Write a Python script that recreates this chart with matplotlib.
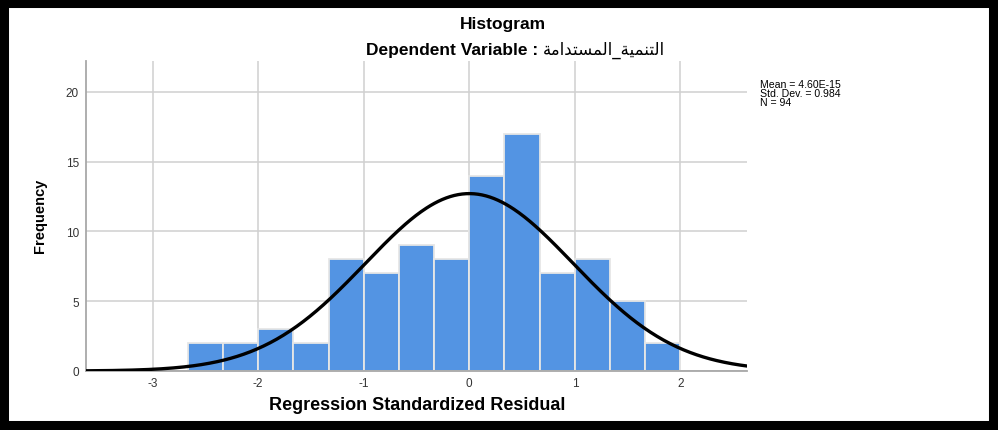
import numpy as np
import matplotlib
matplotlib.use("Agg")
import matplotlib.pyplot as plt
from matplotlib.patches import Rectangle

# ---- data ----
bin_edges = [-8/3, -7/3, -2.0, -5/3, -4/3, -1.0, -2/3, -1/3, 0.0, 1/3, 2/3, 1.0, 4/3, 5/3, 2.0]
counts = [2, 2, 3, 2, 8, 7, 9, 8, 14, 17, 7, 8, 5, 2]
mean_val = 4.60e-15
std_val = 0.984
n_val = 94
xticks = [-3, -2, -1, 0, 1, 2]
yticks = [0, 5, 10, 15, 20]

# Arabic variable name, pre-shaped (presentation forms) in visual order
logical_forms = ["\uFE8D", "\uFEDF", "\uFE98", "\uFEE8", "\uFEE4", "\uFEF4", "\uFE94", "_",
                 "\uFE8D", "\uFEDF", "\uFEE4", "\uFEB4", "\uFE98", "\uFEAA", "\uFE8D", "\uFEE3", "\uFE94"]
arabic_visual = "".join(reversed(logical_forms))

plt.rcParams['font.family'] = ['Liberation Sans', 'DejaVu Sans']

fig = plt.figure(figsize=(9.98, 4.31), dpi=100)
W, H = 998, 431
ax = fig.add_axes([86 / W, (H - 372) / H, (747 - 86) / W, (372 - 62) / H])

bar_color = "#5394E3"
lefts = np.array(bin_edges[:-1])
widths = np.diff(bin_edges)
ax.bar(lefts, counts, width=widths, align="edge", color=bar_color,
       edgecolor="#e6e6e6", linewidth=1.3, zorder=2)

xmin, xmax = -3.63, 2.63
ax.set_xlim(xmin, xmax)
ax.set_ylim(0, 22.2)

bw = 1 / 3
xs = np.linspace(xmin, xmax, 500)
ys = n_val * bw * np.exp(-0.5 * ((xs - mean_val) / std_val) ** 2) / (std_val * np.sqrt(2 * np.pi))
ax.plot(xs, ys, color="black", lw=2.4, zorder=3, solid_capstyle="round")

ax.set_xticks(xticks)
ax.set_xticklabels([str(t) for t in xticks])
ax.set_yticks(yticks)
ax.set_yticklabels([str(t) for t in yticks])
ax.tick_params(length=0, labelsize=8.5, colors="#333333")
ax.tick_params(axis="x", pad=4)
ax.tick_params(axis="y", pad=5)
ax.grid(True, color="#d0d0d0", lw=1.1, zorder=0)
ax.set_axisbelow(True)
for s in ["top", "right"]:
    ax.spines[s].set_visible(False)
for s in ["left", "bottom"]:
    ax.spines[s].set_color("#a8a8a8")
    ax.spines[s].set_linewidth(1.3)

ax.set_xlabel("Regression Standardized Residual", fontsize=13, fontweight="bold")
ax.xaxis.set_label_coords((417.5 - 86) / 661, (372 - 406) / 310)
ax.xaxis.label.set_va("center")
ax.set_ylabel("Frequency", fontsize=10.5, fontweight="bold")
ax.yaxis.set_label_coords((40 - 86) / 661, (372 - 216) / 310)
ax.yaxis.label.set_va("center")

fig.text(502.5 / W, 1 - 25 / H, "Histogram", ha="center", va="center",
         fontsize=12.5, fontweight="bold")
fig.text(538 / W, 1 - 50 / H, "Dependent Variable :", ha="right", va="center",
         fontsize=12.5, fontweight="bold")
fig.text(543 / W, 1 - 50 / H, arabic_visual, ha="left", va="center",
         fontsize=12, family=["DejaVu Sans"])

fig.text(760 / W, 1 - 80 / H,
         "Mean = 4.60E-15\nStd. Dev. = 0.984\nN = %d" % n_val,
         ha="left", va="top", fontsize=7.6, linespacing=0.88)

fig.patches.append(Rectangle((0, 0), 1, 1, transform=fig.transFigure, fill=False,
                             edgecolor="black", linewidth=13, zorder=10))

fig.savefig("out.png", dpi=100)
